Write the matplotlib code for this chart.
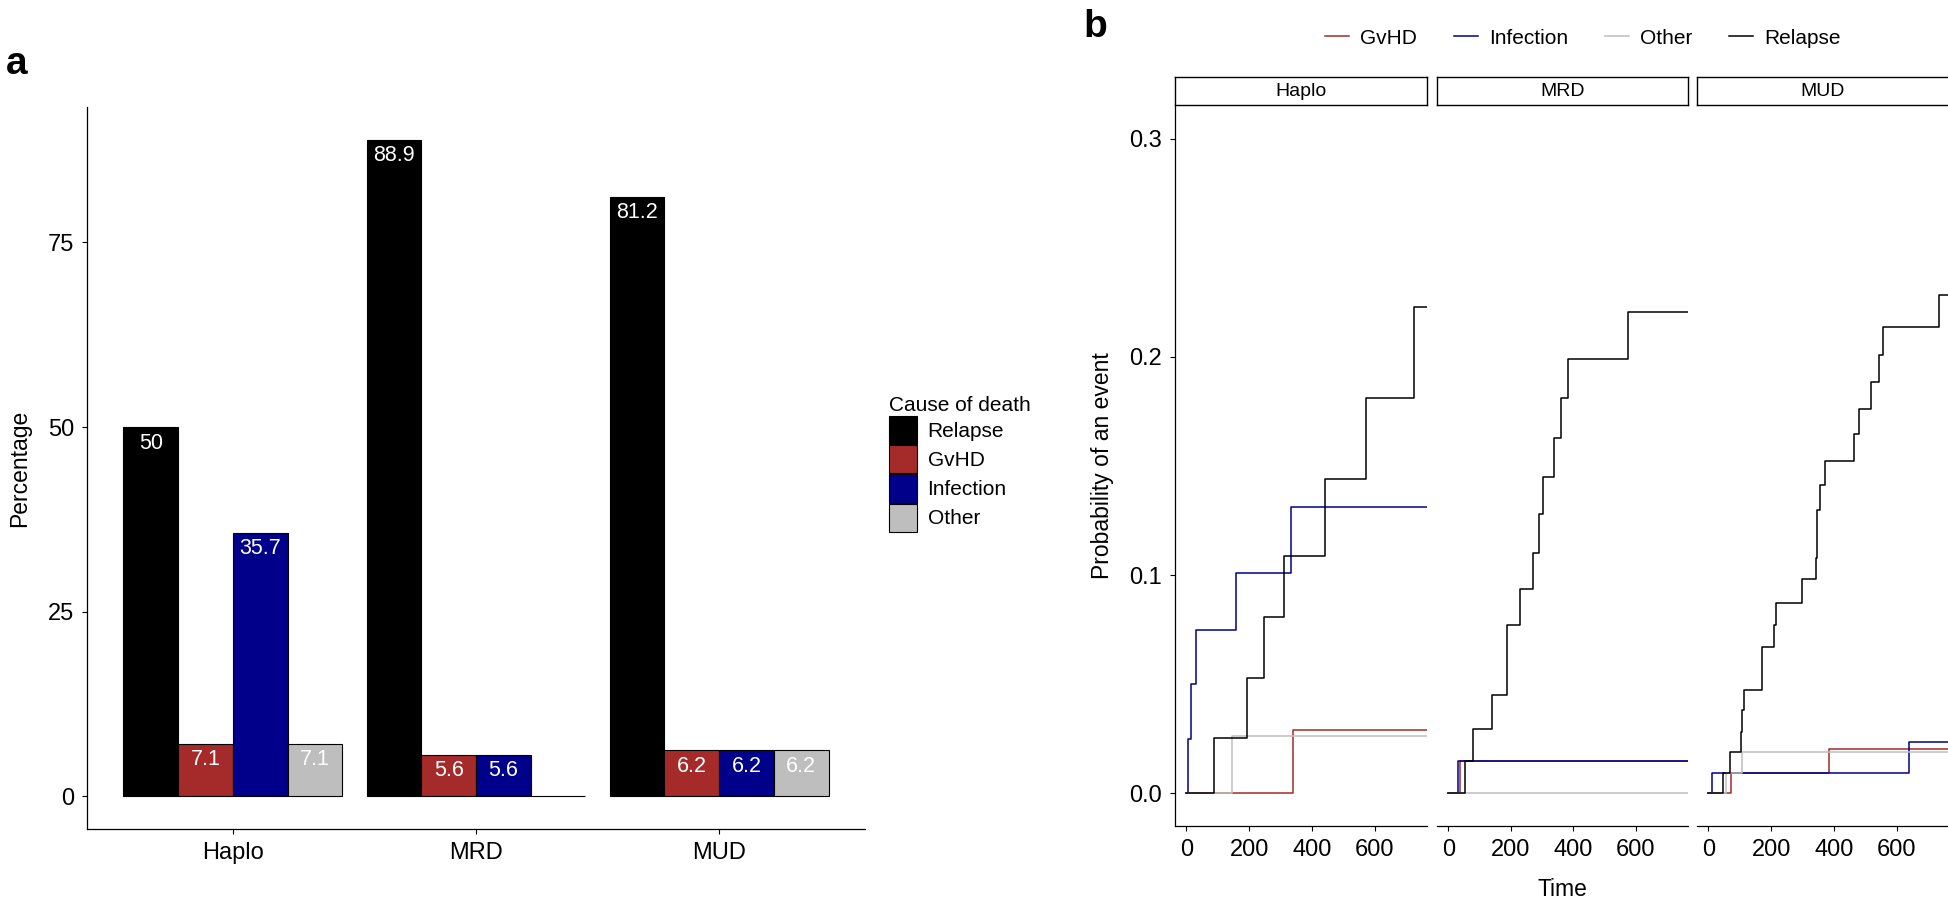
import matplotlib
matplotlib.use('Agg')
import matplotlib.pyplot as plt
from matplotlib.patches import Patch
from matplotlib.lines import Line2D
import numpy as np

plt.rcParams['font.family'] = ['Liberation Sans', 'DejaVu Sans']

# ---- panel a data: cause of death percentages ----
groups = ['Haplo', 'MRD', 'MUD']
causes = ['Relapse', 'GvHD', 'Infection', 'Other']
relapsePct = [50, 88.9, 81.2]
gvhdPct = [7.1, 5.6, 6.2]
infectionPct = [35.7, 5.6, 6.2]
otherPct = [7.1, 0, 6.2]

# ---- panel b data: cumulative incidence step curves (time, probability) ----
events = ['GvHD', 'Infection', 'Other', 'Relapse']

haploGvhdT = [0, 339]
haploGvhdP = [0, 0.0291]
haploInfT = [0, 5, 15, 29, 158, 334]
haploInfP = [0, 0.025, 0.050, 0.075, 0.101, 0.131]
haploOtherT = [0, 146]
haploOtherP = [0, 0.0263]
haploRelT = [0, 87, 193, 247, 312, 440, 573, 726]
haploRelP = [0, 0.0253, 0.0527, 0.0807, 0.1088, 0.144, 0.181, 0.223]

mrdGvhdT = [0, 38]
mrdGvhdP = [0, 0.0146]
mrdInfT = [0, 32]
mrdInfP = [0, 0.0146]
mrdOtherT = [0]
mrdOtherP = [0]
mrdRelT = [0, 54, 78, 140, 187, 189, 230, 270, 291, 304, 337, 360, 382, 575]
mrdRelP = [0, 0.0146, 0.0293, 0.0449, 0.061, 0.0769, 0.0937, 0.110, 0.128,
           0.145, 0.163, 0.181, 0.199, 0.2205]

mudGvhdT = [0, 71, 385]
mudGvhdP = [0, 0.0092, 0.0204]
mudInfT = [0, 11, 639]
mudInfP = [0, 0.0092, 0.0233]
mudOtherT = [0, 55, 106]
mudOtherP = [0, 0.0092, 0.0189]
mudRelT = [0, 46, 69, 103, 108, 114, 170, 210, 215, 298, 343, 345, 347, 357,
           372, 463, 479, 519, 544, 555, 734]
mudRelP = [0, 0.0092, 0.0189, 0.0282, 0.0381, 0.0475, 0.067, 0.0769, 0.0874,
           0.0981, 0.108, 0.119, 0.130, 0.1415, 0.1524, 0.1645, 0.1762, 0.1886,
           0.201, 0.2136, 0.2286]

colorMap = {'Relapse': 'black', 'GvHD': '#A52A2A', 'Infection': '#00008B', 'Other': '#BEBEBE'}

W, H = 1949, 911
fig = plt.figure(figsize=(W / 100, H / 100), dpi=100)


def rect(x0, y0, x1, y1):
    return [x0 / W, 1 - y1 / H, (x1 - x0) / W, (y1 - y0) / H]


def styleAxis(ax, left=True):
    for side in ['top', 'right']:
        ax.spines[side].set_visible(False)
    ax.spines['left'].set_visible(left)
    for side in ['left', 'bottom']:
        ax.spines[side].set_linewidth(0.9)
    ax.tick_params(direction='out', length=3.3, width=0.8, labelsize=17,
                   pad=6, colors='black')
    if not left:
        ax.tick_params(axis='y', left=False, labelleft=False)


# ================= panel a =================
axA = fig.add_axes(rect(87, 107, 865, 829))
x = np.arange(1, len(groups) + 1)
barWidth = 0.225
pctBy = {'Relapse': relapsePct, 'GvHD': gvhdPct, 'Infection': infectionPct, 'Other': otherPct}
for i, cause in enumerate(causes):
    pos = x + (i - 1.5) * barWidth
    vals = pctBy[cause]
    axA.bar(pos, vals, width=barWidth, color=colorMap[cause], edgecolor='black',
            linewidth=0.8, label=cause)
    for px, v in zip(pos, vals):
        if v > 0:
            axA.annotate('%g' % v, (px, v), xytext=(0, -4), textcoords='offset points',
                         ha='center', va='top', color='white', fontsize=15.5)

axA.set_xlim(0.4, 3.6)
axA.set_ylim(-4.445, 93.345)
axA.set_xticks(x)
axA.set_xticklabels(groups)
axA.set_yticks([0, 25, 50, 75])
styleAxis(axA)
axA.set_ylabel('Percentage', fontsize=16.5, labelpad=12)

handles = [Patch(facecolor=colorMap[c], edgecolor='black', linewidth=0.8) for c in causes]
fig.legend(handles, causes, title='Cause of death', loc='upper left',
           bbox_to_anchor=(889 / W, 1 - 396 / H), frameon=False, fontsize=15,
           title_fontsize=15, handlelength=1.35, handleheight=1.7,
           labelspacing=0.05, handletextpad=0.5, borderpad=0, borderaxespad=0,
           alignment='left')

fig.text(6 / W, 1 - 64 / H, 'a', fontsize=28, fontweight='bold', va='center', ha='left')

# ================= panel b =================
curves = {
    'Haplo': {'GvHD': (haploGvhdT, haploGvhdP), 'Infection': (haploInfT, haploInfP),
              'Other': (haploOtherT, haploOtherP), 'Relapse': (haploRelT, haploRelP)},
    'MRD': {'GvHD': (mrdGvhdT, mrdGvhdP), 'Infection': (mrdInfT, mrdInfP),
            'Other': (mrdOtherT, mrdOtherP), 'Relapse': (mrdRelT, mrdRelP)},
    'MUD': {'GvHD': (mudGvhdT, mudGvhdP), 'Infection': (mudInfT, mudInfP),
            'Other': (mudOtherT, mudOtherP), 'Relapse': (mudRelT, mudRelP)},
}
panelX = [(1175, 1427), (1437, 1688), (1697, 1949)]
panelTop, panelBottom = 106, 826
stripTop = 77

for k, grp in enumerate(groups):
    x0, x1 = panelX[k]
    ax = fig.add_axes(rect(x0, panelTop, x1, panelBottom))
    for ev in events:
        t, p = curves[grp][ev]
        t = list(t) + [800]
        p = list(p) + [p[-1]]
        ax.step(t, p, where='post', color=colorMap[ev], linewidth=1.1)
    ax.set_xlim(-36.5, 766.5)
    ax.set_ylim(-0.015, 0.315)
    ax.set_xticks([0, 200, 400, 600])
    ax.set_yticks([0, 0.1, 0.2, 0.3])
    ax.set_yticklabels(['0.0', '0.1', '0.2', '0.3'])
    styleAxis(ax, left=(k == 0))
    if k == 0:
        ax.set_ylabel('Probability of an event', fontsize=16.5, labelpad=11)

    sax = fig.add_axes(rect(x0, stripTop, x1, panelTop - 1))
    sax.set_xticks([])
    sax.set_yticks([])
    for sp in sax.spines.values():
        sp.set_linewidth(1.0)
    sax.text(0.5, 0.5, grp, ha='center', va='center', fontsize=14, transform=sax.transAxes)

fig.text((1175 + 1949) / 2 / W, 1 - 890 / H, 'Time', ha='center', va='center', fontsize=16.5)

lineHandles = [Line2D([], [], color=colorMap[e], linewidth=1.1) for e in events]
fig.legend(lineHandles, events, loc='center', bbox_to_anchor=(1583 / W, 1 - 38 / H),
           ncol=4, frameon=False, fontsize=15, handlelength=1.15, handletextpad=0.55,
           columnspacing=1.75, borderpad=0, borderaxespad=0)

fig.text(1083 / W, 1 - 27 / H, 'b', fontsize=28, fontweight='bold', va='center', ha='left')

fig.savefig('out.png', dpi=100, facecolor='white')
